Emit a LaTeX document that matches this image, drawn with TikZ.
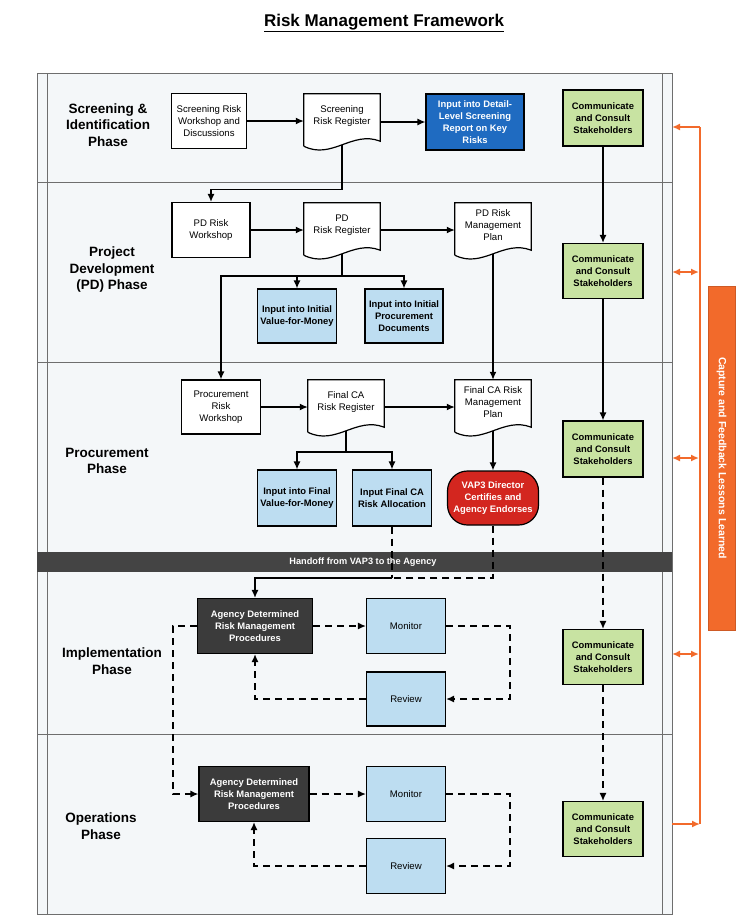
\documentclass[tikz,border=0pt]{standalone}
\usepackage{fontspec}
\setmainfont{Liberation Sans}
\usetikzlibrary{arrows.meta}

\definecolor{laneback}{HTML}{F4F7F9}
\definecolor{laneline}{HTML}{6E6E6E}
\definecolor{reportblue}{HTML}{1F6BC1}
\definecolor{inputblue}{HTML}{BDDDF1}
\definecolor{commgreen}{HTML}{C8E3A2}
\definecolor{certred}{HTML}{D3261F}
\definecolor{agencygray}{HTML}{3B3B3B}
\definecolor{handoffgray}{HTML}{444444}
\definecolor{lessonorange}{HTML}{F26A2B}

\newcommand{\boxfont}{\fontsize{9.6}{12}\selectfont}
\newcommand{\boldboxfont}{\fontsize{9.4}{12}\selectfont\bfseries}
% wavy bottom of a register / plan node
\newcommand{\docwave}[1]{%
  \fill[white] ([yshift=-8pt]#1.south west) .. controls ([xshift=28pt,yshift=-22pt]#1.south west) and ([xshift=-28pt,yshift=8pt]#1.south east) .. ([yshift=-3pt]#1.south east) -- (#1.south east) -- (#1.south west) -- cycle;
  \draw[line width=1.2pt] ([yshift=-8pt]#1.south west) -- (#1.north west) -- (#1.north east) -- ([yshift=-3pt]#1.south east) .. controls ([xshift=-28pt,yshift=8pt]#1.south east) and ([xshift=28pt,yshift=-22pt]#1.south west) .. ([yshift=-8pt]#1.south west);
  \coordinate (#1-b) at ([yshift=-6.6pt]#1.south);
}

\tikzset{
  plainbox/.style={draw, line width=1.2pt, fill=white, align=center, inner sep=1pt,
    minimum width=78pt, minimum height=55pt, font=\boxfont},
  docbox/.style={fill=white, align=center, inner sep=1pt,
    minimum width=76pt, minimum height=44pt, font=\boxfont},
  inputbox/.style={plainbox, fill=inputblue, font=\boldboxfont},
  commbox/.style={plainbox, fill=commgreen, minimum width=80pt, font=\boldboxfont},
  reportbox/.style={plainbox, fill=reportblue, text=white, font=\boldboxfont},
  agencybox/.style={plainbox, fill=agencygray, text=white, font=\boldboxfont},
  certbox/.style={plainbox, fill=certred, text=white, rounded corners=20pt, font=\boldboxfont},
  lanelabel/.style={align=center, font=\fontsize{13.5}{16.5}\selectfont\bfseries},
  flow/.style={line width=1.3pt, ->},
  dflow/.style={line width=1.3pt, ->, dash pattern=on 7pt off 5pt},
  fbline/.style={draw=lessonorange, line width=1.6pt}
}

\begin{document}
\begin{tikzpicture}[x={(1pt,0pt)}, y={(0pt,-1pt)}, >={Latex[length=8pt,width=7pt]}]
\useasboundingbox (0,0) rectangle (747,921);

\node[font=\fontsize{17}{20}\selectfont\bfseries] (title) at (384,23) {\underline{Risk Management Framework}};

% lanes
\fill[laneback] (37,73) rectangle (672,914);
\draw[laneline, line width=0.7pt] (37,73) rectangle (672,914);
\draw[laneline, line width=0.7pt] (47,73) -- (47,914) (662,73) -- (662,914);
\draw[laneline, line width=0.7pt] (37,182) -- (672,182) (37,362) -- (672,362) (37,734) -- (672,734);
\fill[handoffgray] (37,552) rectangle (672,572);
\node[text=white, font=\fontsize{9.2}{11}\selectfont\bfseries] (handoff) at (363,562) {Handoff from VAP3 to the Agency};

\node[lanelabel] (screening) at (108,125) {Screening \&\\Identification\\Phase};
\node[lanelabel] (development) at (112,270) {Project\\Development\\(PD) Phase};
\node[lanelabel] (procurement) at (107,461) {Procurement\\Phase};
\node[lanelabel] (implementation) at (112,661) {Implementation\\Phase};
\node[lanelabel] (operations) at (101,826) {Operations\\Phase};

% screening
\node[plainbox, minimum width=75pt] (sw) at (209,121) {Screening Risk\\Workshop and\\Discussions};
\node[docbox] (sreg) at (342,116) {Screening\\Risk Register};
\docwave{sreg}
\node[reportbox, minimum width=98pt, minimum height=56pt] (sdetail) at (475,122) {Input into Detail-\\Level Screening\\Report on Key\\Risks};
\node[commbox, minimum height=56pt] (c1) at (603,118) {Communicate\\and Consult\\Stakeholders};

% project development
\node[plainbox] (pdw) at (211,230) {PD Risk\\Workshop};
\node[docbox] (pdreg) at (342,225) {PD\\Risk Register};
\docwave{pdreg}
\node[docbox] (pdplan) at (493,225) {PD Risk\\Management\\Plan};
\docwave{pdplan}
\node[commbox] (c2) at (603,271) {Communicate\\and Consult\\Stakeholders};
\node[inputbox, minimum width=79pt, minimum height=54pt] (ivm) at (297,316) {Input into Initial\\Value-for-Money};
\node[inputbox, minimum height=54pt] (ipd) at (404,316) {Input into Initial\\Procurement\\Documents};

% procurement
\node[plainbox, minimum width=79pt, minimum height=54pt] (pw) at (221,407) {Procurement\\Risk\\Workshop};
\node[docbox] (careg) at (346,402) {Final CA\\Risk Register};
\docwave{careg}
\node[docbox] (caplan) at (493,402) {Final CA Risk\\Management\\Plan};
\docwave{caplan}
\node[commbox, minimum height=56pt] (c3) at (603,449) {Communicate\\and Consult\\Stakeholders};
\node[inputbox, minimum width=79pt, minimum height=56pt] (fvm) at (297,498) {Input into Final\\Value-for-Money};
\node[inputbox, minimum width=79pt, minimum height=56pt] (fra) at (392,498) {Input Final CA\\Risk Allocation};
\node[certbox, minimum width=91pt, minimum height=54pt, inner sep=0pt] (vap) at (493,498) {VAP3 Director\\Certifies and\\Agency Endorses};

% implementation
\node[agencybox, minimum width=115pt] (ag1) at (255,626) {Agency Determined\\Risk Management\\Procedures};
\node[inputbox, minimum width=79pt] (mon1) at (406,626) {\boxfont\mdseries Monitor};
\node[inputbox, minimum width=79pt, minimum height=54pt] (rev1) at (406,699) {\boxfont\mdseries Review};
\node[commbox] (c4) at (603,657) {Communicate\\and Consult\\Stakeholders};

% operations
\node[agencybox, minimum width=110pt] (ag2) at (254,794) {Agency Determined\\Risk Management\\Procedures};
\node[inputbox, minimum width=79pt] (mon2) at (406,794) {\boxfont\mdseries Monitor};
\node[inputbox, minimum width=79pt] (rev2) at (406,866) {\boxfont\mdseries Review};
\node[commbox] (c5) at (603,829) {Communicate\\and Consult\\Stakeholders};

% flow
\draw[flow] (sw.east) -- (sw.east -| sreg.west);
\draw[flow] (sdetail.west -| sreg.east) -- (sdetail.west);
\draw[flow] (sreg-b) -- ++(0,45) -| (pdw.north);
\draw[flow] (pdw.east) -- (pdw.east -| pdreg.west);
\draw[flow] (pdw.east -| pdreg.east) -- (pdw.east -| pdplan.west);
\coordinate (pdsplit) at (342,276);
\draw[line width=1.3pt] (pdreg-b) -- (pdsplit);
\draw[flow] (pdsplit) -| (ivm.north);
\draw[flow] (pdsplit) -| (ipd.north);
\draw[flow] (pdsplit) -| (pw.north);
\draw[flow] (pdplan-b) -- (pdplan-b |- caplan.north);
\draw[flow] (pw.east) -- (pw.east -| careg.west);
\draw[flow] (pw.east -| careg.east) -- (pw.east -| caplan.west);
\coordinate (casplit) at (346,452);
\draw[line width=1.3pt] (careg-b) -- (casplit);
\draw[flow] (casplit) -| (fvm.north);
\draw[flow] (casplit) -| (fra.north);
\draw[flow] (caplan-b) -- (vap.north);

\draw[flow] (c1) -- (c2);
\draw[flow] (c2) -- (c3);
\draw[dflow] (c3) -- (c4);
\draw[dflow] (c4) -- (c5);

% handoff
\coordinate (hrow) at (0,578);
\draw[line width=1.3pt, dash pattern=on 7pt off 5pt] (fra.south) -- (fra.south |- hrow);
\draw[line width=1.3pt, dash pattern=on 7pt off 5pt] (vap.south) |- (fra.south |- hrow);
\draw[flow] (fra.south |- hrow) -| (ag1.north);

% monitor and review loops
\draw[dflow] (ag1.east) -- (mon1.west);
\draw[dflow] (mon1.east) -- ++(64,0) |- (rev1.east);
\draw[dflow] (rev1.west) -| (ag1.south);
\draw[dflow] (ag1.west) -- ++(-24,0) |- (ag2.west);
\draw[dflow] (ag2.east) -- (mon2.west);
\draw[dflow] (mon2.east) -- ++(64,0) |- (rev2.east);
\draw[dflow] (rev2.west) -| (ag2.south);

% lessons learned
\node[fill=lessonorange, draw=lessonorange!85!black, rotate=-90, text=white,
      minimum width=344pt, minimum height=27pt, inner sep=0pt,
      font=\fontsize{10.5}{12}\selectfont\bfseries] (lessons) at (721.5,458) {Capture and Feedback Lessons Learned};
\draw[fbline] (700,824) -- (700,127);
\draw[fbline, ->] (700,127) -- (672,127);
\draw[fbline, <->] (672,272) -- (699,272);
\draw[fbline, <->] (672,458) -- (699,458);
\draw[fbline, <->] (672,654) -- (699,654);
\draw[fbline, ->] (672,824) -- (700,824);
\end{tikzpicture}
\end{document}
